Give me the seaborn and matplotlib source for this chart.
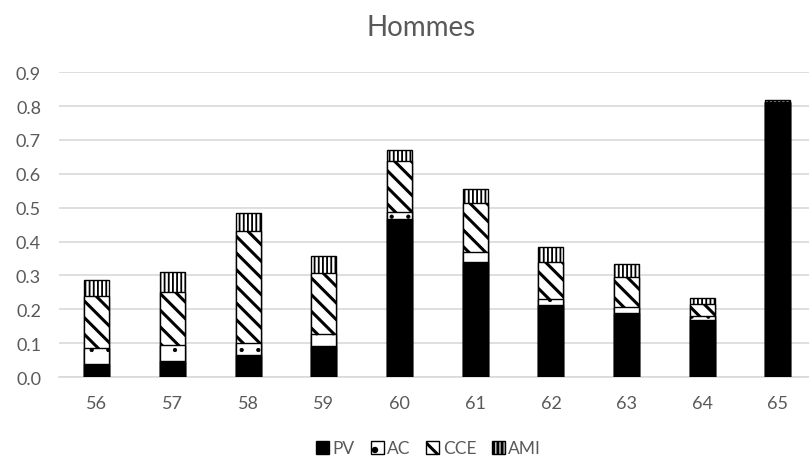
import matplotlib
matplotlib.use("Agg")
import matplotlib.pyplot as plt
import seaborn as sns
import numpy as np
from matplotlib.patches import Patch

ages = ["56", "57", "58", "59", "60", "61", "62", "63", "64", "65"]
pv  = [0.040, 0.048, 0.065, 0.092, 0.466, 0.340, 0.212, 0.190, 0.170, 0.812]
ac  = [0.045, 0.047, 0.037, 0.035, 0.022, 0.028, 0.018, 0.018, 0.010, 0.000]
cce = [0.155, 0.155, 0.328, 0.180, 0.150, 0.147, 0.110, 0.088, 0.036, 0.000]
ami = [0.047, 0.059, 0.054, 0.049, 0.032, 0.040, 0.044, 0.037, 0.018, 0.005]
series_names = ["PV", "AC", "CCE", "AMI"]
yticks = [0.0, 0.1, 0.2, 0.3, 0.4, 0.5, 0.6, 0.7, 0.8, 0.9]

sns.set_style("white")
plt.rcParams["font.family"] = ["Lato", "DejaVu Sans"]
plt.rcParams["hatch.linewidth"] = 2.2

TXT = "#595959"
fig = plt.figure(figsize=(8.09, 4.6), dpi=100)
ax = fig.add_axes([0.073, 0.178, 0.927, 0.663])

layers = [pv, ac, cce, ami]
faces = ["black", "white", "white", "white"]
hatches = [None, ".", "\\\\", "||||"]
hlw = [1.0, 0.6, 2.2, 1.3]
cum = np.cumsum(np.array(layers), axis=0)

for i in range(3, -1, -1):
    n_before = len(ax.patches)
    kws = dict(x=ages, y=cum[i], order=ages, color=faces[i], saturation=1,
               width=0.33, edgecolor="black", linewidth=1.0, ax=ax, zorder=3)
    if hatches[i]:
        kws["hatch"] = hatches[i]
    sns.barplot(**kws)
    for p in ax.patches[n_before:]:
        if hasattr(p, "set_hatch_linewidth"):
            p.set_hatch_linewidth(hlw[i])

ax.set_ylim(0, 0.9)
ax.set_xlim(-0.5, 9.41)
ax.set_yticks(yticks)
ax.set_yticklabels([f"{v:.1f}" for v in yticks])
ax.yaxis.grid(True, color="#d9d9d9", linewidth=1.2, zorder=0)
ax.set_axisbelow(True)
for s in ["top", "right", "left"]:
    ax.spines[s].set_visible(False)
ax.spines["bottom"].set_color("#d9d9d9")
ax.spines["bottom"].set_linewidth(1.2)
ax.tick_params(axis="both", length=0, labelsize=13, colors=TXT)
ax.tick_params(axis="x", pad=13)
ax.tick_params(axis="y", pad=13)
ax.set_xlabel("")
ax.set_ylabel("")

fig.text(0.52, 0.94, "Hommes", ha="center", va="center", fontsize=20, color=TXT)

handles = []
for i in range(4):
    h = Patch(facecolor=faces[i], edgecolor="black", hatch=hatches[i], linewidth=1.0)
    if hasattr(h, "set_hatch_linewidth"):
        h.set_hatch_linewidth(hlw[i])
    handles.append(h)
leg = fig.legend(handles, series_names, loc="lower center", bbox_to_anchor=(0.53, 0.002),
                 ncol=4, frameon=False, fontsize=12.5, handlelength=0.75, handleheight=0.75,
                 handletextpad=0.2, columnspacing=0.9, borderpad=0.1, borderaxespad=0)
for t in leg.get_texts():
    t.set_color(TXT)

fig.savefig("out.png", dpi=100)
